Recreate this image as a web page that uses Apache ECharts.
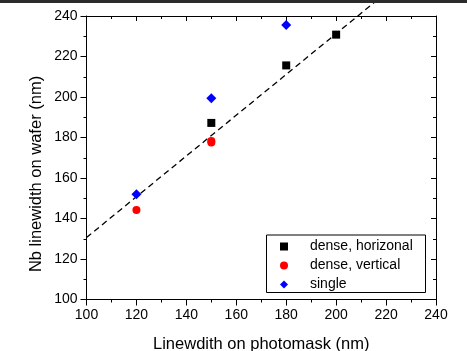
<!DOCTYPE html>
<html>
<head>
<meta charset="utf-8">
<script src="https://cdn.jsdelivr.net/npm/echarts@6/dist/echarts.min.js"></script>
<style>
html,body{margin:0;padding:0;background:#fff;}
#chart{width:467px;height:351px;}
</style>
</head>
<body>
<div id="chart"></div>
<script>
// ---- data ----
const horizX = [150, 180, 200];
const horizY = [187.2, 215.6, 230.8];
const vertX = [120, 150, 150];
const vertY = [144.2, 177.5, 178.3];
const singleX = [120, 150, 180];
const singleY = [152.0, 199.4, 235.6];
const fitX = [100, 216];
const fitY = [130.6, 247.4];
const xTicks = [100, 120, 140, 160, 180, 200, 220, 240];
const yTicks = [100, 120, 140, 160, 180, 200, 220, 240];
const seriesNames = ['dense, horizonal', 'dense, vertical', 'single'];
const xTitle = 'Linewdith on photomask (nm)';
const yTitle = 'Nb linewidth on wafer (nm)';

const FONT = 'Liberation Sans, Arial, sans-serif';
const zip = (a, b) => a.map((v, i) => [v, b[i]]);

const chart = echarts.init(document.getElementById('chart'), null, {renderer: 'canvas'});

const axisCommon = {
  type: 'value', min: 100, max: 240, interval: 20,
  splitLine: {show: false},
  axisLine: {show: true, onZero: false, lineStyle: {color: '#000', width: 1}},
  minorTick: {show: true, splitNumber: 2, length: 3, lineStyle: {color: '#000', width: 1}},
  minorSplitLine: {show: false}
};

const option = {
  animation: false,
  backgroundColor: '#fff',
  grid: {left: 86.5, right: 31, top: 16, bottom: 51.5, containLabel: false, outerBoundsMode: 'none'},
  xAxis: [
    Object.assign({}, axisCommon, {
      position: 'bottom',
      axisTick: {show: true, inside: false, length: 6, lineStyle: {color: '#000', width: 1}},
      axisLabel: {show: true, margin: 9, color: '#000', fontSize: 14, fontFamily: FONT,
        formatter: v => xTicks.includes(v) ? String(v) : ''},
      name: xTitle, nameLocation: 'middle', nameGap: 36,
      nameTextStyle: {color: '#000', fontSize: 16.5, fontFamily: FONT}
    }),
    Object.assign({}, axisCommon, {
      position: 'top',
      axisTick: {show: true, inside: true, length: 5, lineStyle: {color: '#000', width: 1}},
      minorTick: {show: true, splitNumber: 2, length: 3, lineStyle: {color: '#000', width: 1}},
      axisLabel: {show: false}
    })
  ],
  yAxis: [
    Object.assign({}, axisCommon, {
      position: 'left',
      axisTick: {show: true, inside: false, length: 6, lineStyle: {color: '#000', width: 1}},
      axisLabel: {show: true, margin: 9, color: '#000', fontSize: 14, fontFamily: FONT,
        formatter: v => yTicks.includes(v) ? String(v) : ''}
    }),
    Object.assign({}, axisCommon, {
      position: 'right',
      axisTick: {show: true, inside: true, length: 5, lineStyle: {color: '#000', width: 1}},
      minorTick: {show: true, splitNumber: 2, length: 3, lineStyle: {color: '#000', width: 1}},
      axisLabel: {show: false}
    })
  ],
  legend: {
    data: seriesNames,
    orient: 'vertical',
    left: 280, top: 238.5,
    itemWidth: 8, itemHeight: 8, itemGap: 3,
    padding: 0,
    borderWidth: 0,
    textStyle: {color: '#000', fontSize: 14, fontFamily: FONT, padding: [0, 0, 0, 17], lineHeight: 16}
  },
  graphic: [
    {type: 'rect', left: 0, top: 0, shape: {x: 0, y: 0, width: 467, height: 3}, style: {fill: '#2b2b2b'}, z: 100},
    {type: 'rect', shape: {x: 266.5, y: 235, width: 159, height: 57.5}, style: {fill: 'none', stroke: '#000', lineWidth: 1}, z: 50},
    {type: 'text', x: 36.5, y: 174, rotation: Math.PI / 2,
      style: {text: yTitle, fill: '#000', font: '16.5px ' + FONT, textAlign: 'center', textVerticalAlign: 'middle'}}
  ],
  series: [
    {type: 'line', data: zip(fitX, fitY), symbol: 'none', clip: false, silent: true,
      lineStyle: {color: '#000', width: 1.3, type: [6, 4]}, z: 1},
    {name: seriesNames[0], type: 'scatter', data: zip(horizX, horizY), symbol: 'rect', symbolSize: 8,
      itemStyle: {color: '#000', opacity: 1}, z: 3},
    {name: seriesNames[1], type: 'scatter', data: zip(vertX, vertY), symbol: 'circle', symbolSize: 8,
      itemStyle: {color: '#ff0000', opacity: 1}, z: 3},
    {name: seriesNames[2], type: 'scatter', data: zip(singleX, singleY), symbol: 'diamond', symbolSize: 10,
      itemStyle: {color: '#0000ff', opacity: 1}, z: 3}
  ]
};
chart.setOption(option);
</script>
</body>
</html>
